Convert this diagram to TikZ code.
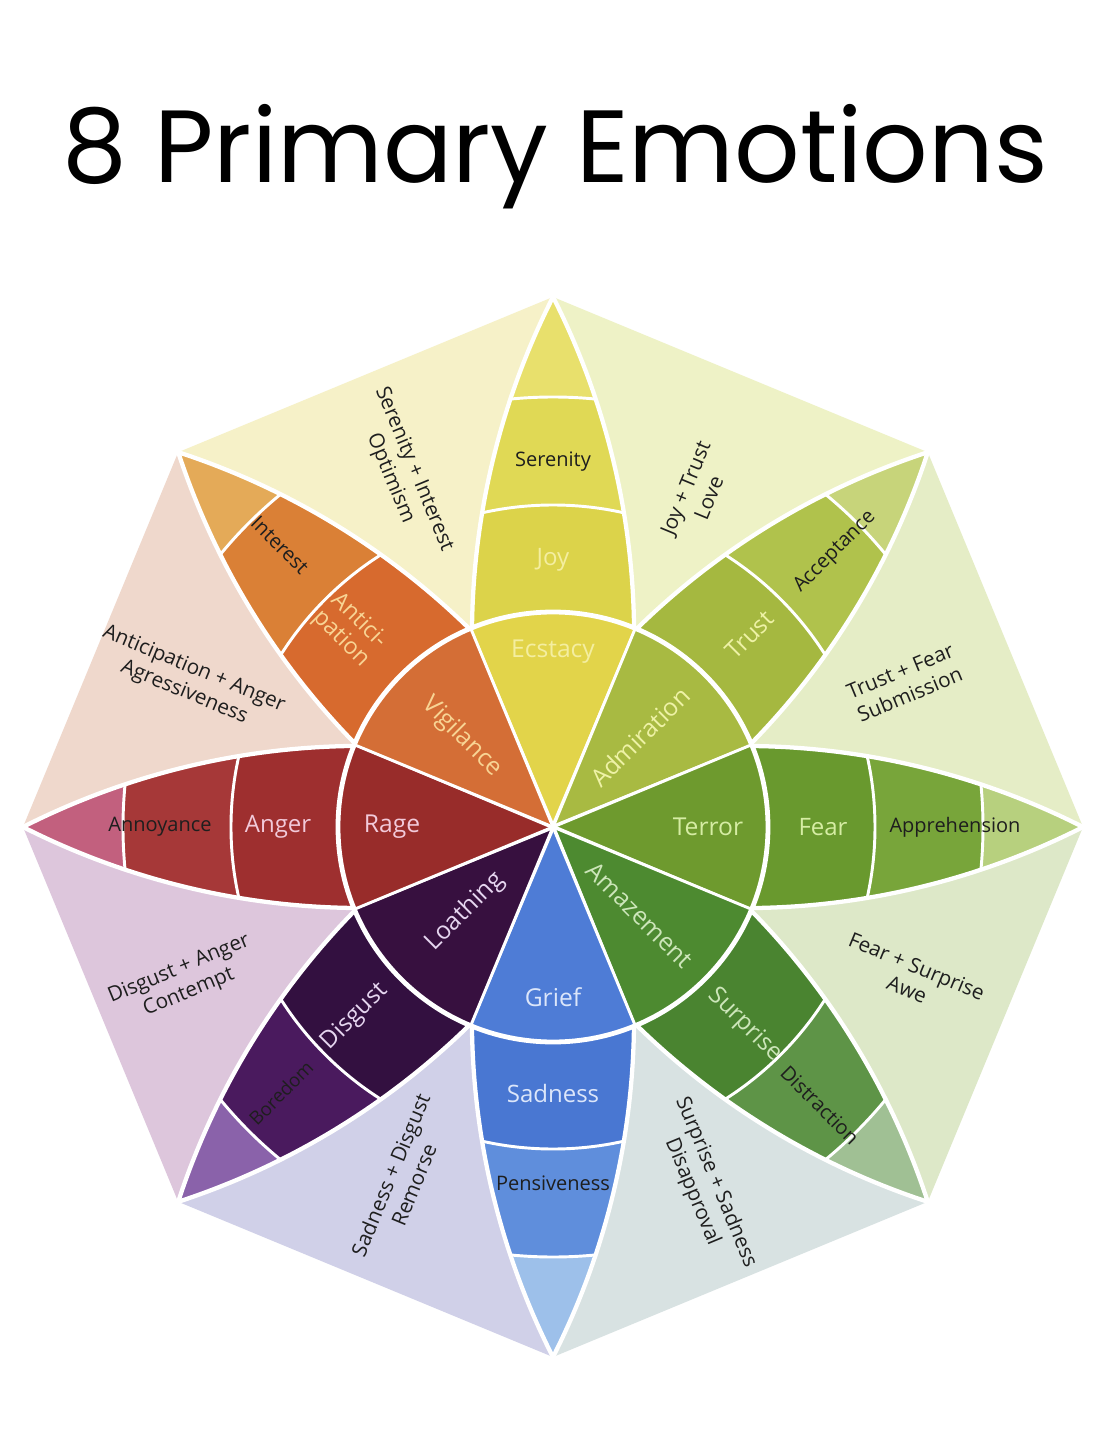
\documentclass[tikz,border=0pt]{standalone}
\usepackage{fontspec}
\setmainfont{Open Sans}
\newfontfamily\titlefont{Poppins}
% petal colours: inner, middle, outer band, tip
\definecolor{jA}{HTML}{E2D44A}\definecolor{jB}{HTML}{DCD34A}\definecolor{jC}{HTML}{E0D955}\definecolor{jD}{HTML}{E8E06C}
\definecolor{tA}{HTML}{A8BA42}\definecolor{tB}{HTML}{A5B840}\definecolor{tC}{HTML}{B0C24C}\definecolor{tD}{HTML}{C7D47A}
\definecolor{fA}{HTML}{6E9A2E}\definecolor{fB}{HTML}{69992E}\definecolor{fC}{HTML}{78A53A}\definecolor{fD}{HTML}{B7D07E}
\definecolor{sA}{HTML}{4D8A30}\definecolor{sB}{HTML}{4A8430}\definecolor{sC}{HTML}{5E9447}\definecolor{sD}{HTML}{A0C094}
\definecolor{dA}{HTML}{4E7CD6}\definecolor{dB}{HTML}{4977D2}\definecolor{dC}{HTML}{5F8EDC}\definecolor{dD}{HTML}{9DC0EA}
\definecolor{gA}{HTML}{37103F}\definecolor{gB}{HTML}{331040}\definecolor{gC}{HTML}{4A1A5E}\definecolor{gD}{HTML}{8A62AA}
\definecolor{aA}{HTML}{982C2A}\definecolor{aB}{HTML}{9E2F2F}\definecolor{aC}{HTML}{A63838}\definecolor{aD}{HTML}{C2607E}
\definecolor{nA}{HTML}{D46E36}\definecolor{nB}{HTML}{D76A2E}\definecolor{nC}{HTML}{DA8036}\definecolor{nD}{HTML}{E4AA58}
% dyad colours
\definecolor{dySub}{HTML}{E5EDC6}\definecolor{dyLove}{HTML}{EEF2C6}\definecolor{dyOpt}{HTML}{F6F1C8}
\definecolor{dyAgg}{HTML}{EFD8CC}\definecolor{dyCon}{HTML}{DDC6DC}\definecolor{dyRem}{HTML}{D0D0E8}
\definecolor{dyDis}{HTML}{D8E2E2}\definecolor{dyAwe}{HTML}{DDE8C8}
% light text colours
\definecolor{txJ}{HTML}{F4EEA0}\definecolor{txT}{HTML}{EEF2A6}\definecolor{txF}{HTML}{D6EDA4}
\definecolor{txS}{HTML}{CDE6BA}\definecolor{txD}{HTML}{DCE6FA}\definecolor{txG}{HTML}{E6D6F0}
\definecolor{txA}{HTML}{F2CADA}\definecolor{txN}{HTML}{F8D494}\definecolor{txDark}{HTML}{1E1E1E}
\def\petalshape{(530,0) arc[start angle=63.1,end angle=89.42,radius=749] -- (0,0) -- (198.7,-81.06) arc[start angle=-89.42,end angle=-63.1,radius=749] -- cycle}
\newcommand\emopetal[5]{%
  \begin{scope}[rotate=#1]
    \fill[#5] \petalshape;
    \begin{scope}
      \clip \petalshape;
      \fill[#4] (0,0) circle[radius=430];
      \fill[#3] (0,0) circle[radius=322];
      \draw[bandline] (0,0) circle[radius=322] (0,0) circle[radius=430];
    \end{scope}
    \draw[petalline] \petalshape;
  \end{scope}
  \fill[#2] (0,0) -- (#1-22.5:215) arc[start angle=#1-22.5,end angle=#1+22.5,radius=215] -- cycle;
}
\begin{document}
\begin{tikzpicture}[x=0.75pt,y=0.75pt,
  petalline/.style={draw=white,line width=3.2pt,line join=round},
  bandline/.style={draw=white,line width=2.2pt},
  wedgeline/.style={draw=white,line width=2.2pt},
  inlbl/.style={font=\fontsize{18.5}{21}\selectfont,inner sep=0pt},
  midlbl/.style={font=\fontsize{18}{21}\selectfont,inner sep=0pt},
  outlbl/.style={font=\fontsize{15}{18}\selectfont,text=txDark,inner sep=0pt},
  dyad/.style={font=\fontsize{15.5}{19}\selectfont,text=txDark,align=center,inner sep=0pt}]
\useasboundingbox (-553,-613) rectangle (559,827);
\fill[white] (-553,-613) rectangle (559,827);
\node[font=\titlefont\fontsize{77}{90}\selectfont,anchor=base,inner sep=0pt] (title) at (2,644) {8 Primary Emotions};
% dyad triangles
\fill[dySub]  (0,0) -- (0:530) -- (45:530) -- cycle;
\fill[dyLove] (0,0) -- (45:530) -- (90:530) -- cycle;
\fill[dyOpt]  (0,0) -- (90:530) -- (135:530) -- cycle;
\fill[dyAgg]  (0,0) -- (135:530) -- (180:530) -- cycle;
\fill[dyCon]  (0,0) -- (180:530) -- (225:530) -- cycle;
\fill[dyRem]  (0,0) -- (225:530) -- (270:530) -- cycle;
\fill[dyDis]  (0,0) -- (270:530) -- (315:530) -- cycle;
\fill[dyAwe]  (0,0) -- (315:530) -- (360:530) -- cycle;
% petals
\emopetal{90}{jA}{jB}{jC}{jD}
\emopetal{45}{tA}{tB}{tC}{tD}
\emopetal{0}{fA}{fB}{fC}{fD}
\emopetal{-45}{sA}{sB}{sC}{sD}
\emopetal{-90}{dA}{dB}{dC}{dD}
\emopetal{-135}{gA}{gB}{gC}{gD}
\emopetal{180}{aA}{aB}{aC}{aD}
\emopetal{135}{nA}{nB}{nC}{nD}
\foreach \a in {22.5,67.5,...,337.5} \draw[wedgeline] (0,0) -- (\a:215);
\draw[white,line width=3.6pt] (0,0) circle[radius=215];
% inner labels
\node[inlbl,text=txJ] (ecstacy) at (0,175) {Ecstacy};
\node[inlbl,text=txT,rotate=45] (admiration) at (87,90) {Admiration};
\node[inlbl,text=txF] (terror) at (155,0) {Terror};
\node[inlbl,text=txS,rotate=-45] (amazement) at (87,-88) {Amazement};
\node[inlbl,text=txD] (grief) at (0,-170) {Grief};
\node[inlbl,text=txG,rotate=45] (loathing) at (-88,-85) {Loathing};
\node[inlbl,text=txA] (rage) at (-161,0) {Rage};
\node[inlbl,text=txN,rotate=-45] (vigilance) at (-91,90) {Vigilance};
% middle labels
\node[midlbl,text=txJ] (joy) at (0,267) {Joy};
\node[midlbl,text=txT,rotate=45] (trust) at (197,192) {Trust};
\node[midlbl,text=txF] (fear) at (270,0) {Fear};
\node[midlbl,text=txS,rotate=-45] (surprise) at (192,-198) {Surprise};
\node[midlbl,text=txD] (sadness) at (0,-266) {Sadness};
\node[midlbl,text=txG,rotate=45] (disgust) at (-198,-190) {Disgust};
\node[midlbl,text=txA] (anger) at (-275,0) {Anger};
\node[midlbl,text=txN,rotate=-45,align=center,font=\fontsize{17.5}{19}\selectfont] (anticipation) at (-203,197) {Antici-\\pation};
% outer labels
\node[outlbl] (serenity) at (0,365) {Serenity};
\node[outlbl,rotate=45] (acceptance) at (282,275) {Acceptance};
\node[outlbl] (apprehension) at (402,0) {Apprehension};
\node[outlbl,rotate=-45] (distraction) at (267,-278) {Distraction};
\node[outlbl] (pensiveness) at (0,-356) {Pensiveness};
\node[outlbl,rotate=45,font=\fontsize{14}{17}\selectfont] (boredom) at (-272,-266) {Boredom};
\node[outlbl] (annoyance) at (-393,0) {Annoyance};
\node[outlbl,rotate=-45] (interest) at (-273,282) {Interest};
% dyad labels
\node[dyad,rotate=-67.5] (optimism) at (-151,353) {Serenity + Interest\\Optimism};
\node[dyad,rotate=67.5] (love) at (144,334) {Joy + Trust\\Love};
\node[dyad,rotate=22.5] (submission) at (352,144) {Trust + Fear\\Submission};
\node[dyad,rotate=-22.5] (awe) at (359,-151) {Fear + Surprise\\Awe};
\node[dyad,rotate=-67.5] (disapproval) at (151,-360) {Surprise + Sadness\\Disapproval};
\node[dyad,rotate=67.5] (remorse) at (-151,-353) {Sadness + Disgust\\Remorse};
\node[dyad,rotate=22.5] (contempt) at (-369,-154) {Disgust + Anger\\Contempt};
\node[dyad,rotate=-22.5] (aggressiveness) at (-364,146) {Anticipation + Anger\\Agressiveness};
\end{tikzpicture}
\end{document}
